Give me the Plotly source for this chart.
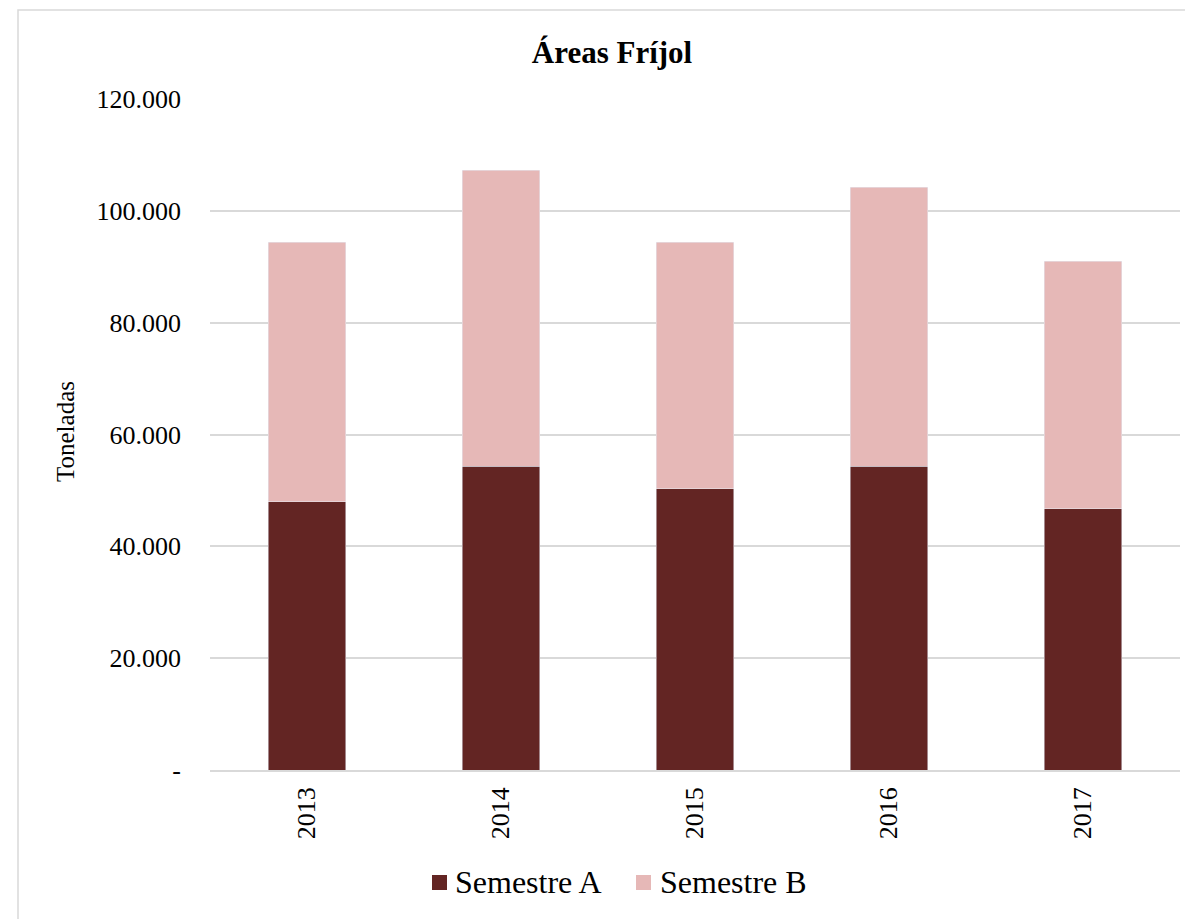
import plotly.graph_objects as go

years = ["2013", "2014", "2015", "2016", "2017"]
semestre_a = [48000, 54300, 50300, 54300, 46700]
semestre_b = [46400, 53000, 44100, 49900, 44300]
tick_vals = [0, 20000, 40000, 60000, 80000, 100000, 120000]
tick_text = ["-", "20.000", "40.000", "60.000", "80.000", "100.000", "120.000"]
series_names = ["Semestre A", "Semestre B"]
series_colors = ["#632523", "#e6b8b7"]

font_family = "Liberation Serif, Times New Roman, serif"

fig = go.Figure()
for name, vals, col in zip(series_names, [semestre_a, semestre_b], series_colors):
    fig.add_trace(go.Bar(x=years, y=vals, name=name, marker_color=col, showlegend=False))

OFF = 8  # page body margin
W, H = 1193 - OFF, 919 - OFF
# plot area in page coords: x 210..1180, y 99..770
L, R, T, B = 210 - OFF, 1193 - 1180, 99 - OFF, 919 - 770
pw, ph = W - L - R, H - T - B

def px(x):
    return (x - OFF - L) / pw

def py(y):
    return (H - B - (y - OFF)) / ph

# custom legend (page coords)
legend_sq_x = [432, 636]
legend_txt_x = [455, 660]
legend_y0, legend_y1 = 875, 890

shapes = [dict(type="rect", xref="paper", yref="paper",
               x0=px(18), x1=px(1210), y0=py(935), y1=py(10),
               line=dict(color="#d9d9d9", width=1.5), layer="below")]
annotations = [dict(text="Toneladas", xref="paper", yref="paper", x=px(65), y=py(432),
                    xanchor="center", yanchor="middle", textangle=-90, showarrow=False,
                    font=dict(size=25, family=font_family))]
for name, col, sx, tx in zip(series_names, series_colors, legend_sq_x, legend_txt_x):
    shapes.append(dict(type="rect", xref="paper", yref="paper",
                       x0=px(sx), x1=px(sx + 15), y0=py(legend_y1), y1=py(legend_y0),
                       fillcolor=col, line=dict(width=0)))
    annotations.append(dict(text=name, xref="paper", yref="paper", x=px(tx - 2), y=py(882),
                            xanchor="left", yanchor="middle", showarrow=False,
                            font=dict(size=32, family=font_family)))

fig.update_layout(
    width=W, height=H,
    barmode="stack", bargap=0.6,
    plot_bgcolor="white", paper_bgcolor="white",
    margin=dict(l=L, r=R, t=T, b=B, autoexpand=False),
    font=dict(family=font_family, size=26, color="#000000"),
    title=dict(text="<b>Áreas Fríjol</b>", x=px(612), xanchor="center", xref="paper",
               y=1 - (52 - OFF) / H, yanchor="middle", font=dict(size=31, family=font_family)),
    yaxis=dict(range=[0, 120000], tickvals=tick_vals, ticktext=tick_text,
               showgrid=True, gridcolor="#d9d9d9", gridwidth=1.5, zeroline=False,
               ticks="", tickfont=dict(size=26, family=font_family), ticklabelstandoff=28),
    xaxis=dict(tickangle=-90, showline=True, linecolor="#d9d9d9", linewidth=1.5,
               ticks="", tickfont=dict(size=26, family=font_family), ticklabelstandoff=5),
    showlegend=False,
    annotations=annotations,
    shapes=shapes,
)

fig.write_html("out.html")
